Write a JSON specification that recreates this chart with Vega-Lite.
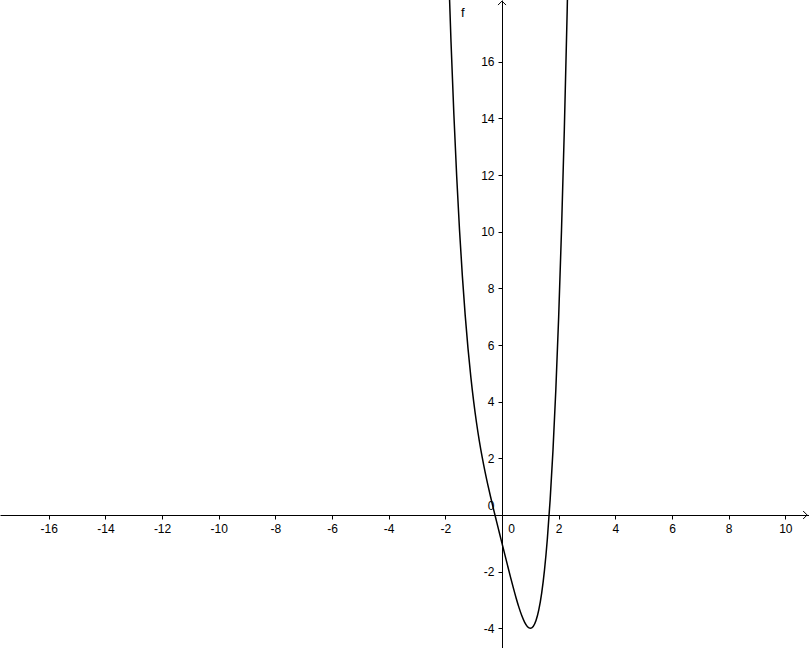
{
  "$schema": "https://vega.github.io/schema/vega-lite/v6.json",
  "width": 809,
  "height": 648,
  "padding": 0,
  "autosize": {"type": "none"},
  "background": "white",
  "config": {
    "view": {"stroke": null},
    "axis": {
      "grid": false,
      "title": null,
      "domainColor": "black",
      "domainWidth": 1,
      "tickColor": "black",
      "tickWidth": 1,
      "tickSize": 4,
      "labelColor": "black",
      "labelFont": "Liberation Sans",
      "labelFontSize": 12,
      "labelPadding": 4,
      "labelOverlap": false,
      "labelFlush": false,
      "labelBound": false,
      "labelExpr": "'' + datum.value"
    }
  },
  "layer": [
    {
      "data": {"values": [
        {"x": -2.0, "f": 23},
        {"x": -1.9, "f": 19.6321},
        {"x": -1.8, "f": 16.6976},
        {"x": -1.7, "f": 14.1521},
        {"x": -1.6, "f": 11.9536},
        {"x": -1.5, "f": 10.0625},
        {"x": -1.4, "f": 8.4416},
        {"x": -1.3, "f": 7.0561},
        {"x": -1.2, "f": 5.8736},
        {"x": -1.1, "f": 4.8641},
        {"x": -1.0, "f": 4},
        {"x": -0.9, "f": 3.2561},
        {"x": -0.8, "f": 2.6096},
        {"x": -0.7, "f": 2.0401},
        {"x": -0.6, "f": 1.5296},
        {"x": -0.5, "f": 1.0625},
        {"x": -0.4, "f": 0.6256},
        {"x": -0.3, "f": 0.2081},
        {"x": -0.2, "f": -0.1984},
        {"x": -0.1, "f": -0.5999},
        {"x": 0.0, "f": -1},
        {"x": 0.1, "f": -1.3999},
        {"x": 0.2, "f": -1.7984},
        {"x": 0.3, "f": -2.1919},
        {"x": 0.4, "f": -2.5744},
        {"x": 0.5, "f": -2.9375},
        {"x": 0.6, "f": -3.2704},
        {"x": 0.7, "f": -3.5599},
        {"x": 0.8, "f": -3.7904},
        {"x": 0.9, "f": -3.9439},
        {"x": 1.0, "f": -4},
        {"x": 1.1, "f": -3.9359},
        {"x": 1.2, "f": -3.7264},
        {"x": 1.3, "f": -3.3439},
        {"x": 1.4, "f": -2.7584},
        {"x": 1.5, "f": -1.9375},
        {"x": 1.6, "f": -0.8464},
        {"x": 1.7, "f": 0.5521},
        {"x": 1.8, "f": 2.2976},
        {"x": 1.9, "f": 4.4321},
        {"x": 2.0, "f": 7},
        {"x": 2.1, "f": 10.0481},
        {"x": 2.2, "f": 13.6256},
        {"x": 2.3, "f": 17.7841},
        {"x": 2.4, "f": 22.5776}
      ]},
      "mark": {"type": "line", "color": "black", "strokeWidth": 1.5, "clip": true, "interpolate": "monotone"},
      "encoding": {
        "x": {
          "field": "x", "type": "quantitative",
          "scale": {"domain": [-17.72, 10.836], "nice": false, "zero": false},
          "axis": {
            "orient": "bottom",
            "offset": -133,
            "values": [-16, -14, -12, -10, -8, -6, -4, -2, 0, 2, 4, 6, 8, 10],
            "labelOffset": {"condition": {"test": "datum.value === 0", "value": 9}, "value": 0}
          }
        },
        "y": {
          "field": "f", "type": "quantitative",
          "scale": {"domain": [-4.695, 18.178], "nice": false, "zero": false},
          "axis": {
            "orient": "left",
            "offset": -502,
            "values": [-4, -2, 0, 2, 4, 6, 8, 10, 12, 14, 16],
            "labelOffset": {"condition": {"test": "datum.value === 0", "value": -9}, "value": 0}
          }
        }
      }
    },
    {
      "data": {"values": [{"x": -1.38, "f": 17.72, "label": "f"}]},
      "mark": {"type": "text", "font": "Liberation Sans", "fontSize": 13, "color": "black"},
      "encoding": {
        "x": {"field": "x", "type": "quantitative"},
        "y": {"field": "f", "type": "quantitative"},
        "text": {"field": "label"}
      }
    },
    {
      "data": {"values": [{"x": 10.77, "f": 0}]},
      "mark": {"type": "point", "shape": "M-1,-1L0,0L-1,1", "size": 64, "filled": false, "stroke": "black", "strokeWidth": 1, "opacity": 1},
      "encoding": {
        "x": {"field": "x", "type": "quantitative"},
        "y": {"field": "f", "type": "quantitative"}
      }
    },
    {
      "data": {"values": [{"x": 0, "f": 18.14}]},
      "mark": {"type": "point", "shape": "M-1,1L0,0L1,1", "size": 64, "filled": false, "stroke": "black", "strokeWidth": 1, "opacity": 1},
      "encoding": {
        "x": {"field": "x", "type": "quantitative"},
        "y": {"field": "f", "type": "quantitative"}
      }
    }
  ]
}
